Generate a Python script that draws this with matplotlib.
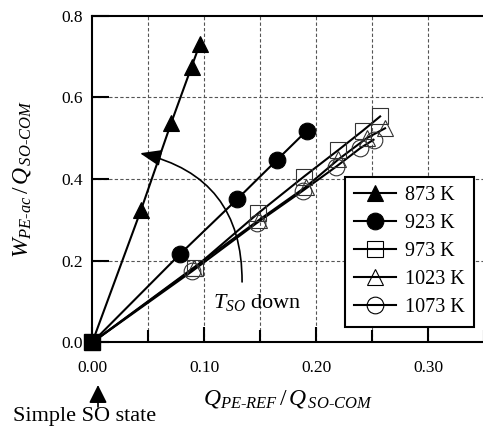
#!/usr/bin/env python3
"""Work ratio vs heat ratio for several SO temperatures."""

import matplotlib

matplotlib.use("Agg")
import matplotlib.pyplot as plt
from matplotlib.patches import FancyArrowPatch
from matplotlib.ticker import MultipleLocator

plt.rcParams["font.family"] = ["Liberation Serif", "DejaVu Serif"]
plt.rcParams["mathtext.fontset"] = "custom"
plt.rcParams["mathtext.rm"] = "Liberation Serif"
plt.rcParams["mathtext.it"] = "Liberation Serif:italic"
plt.rcParams["mathtext.bf"] = "Liberation Serif:bold"

# simple SO state (common start of every line)
ORIGIN_X = [0.0]
ORIGIN_Y = [0.0]

SERIES_LABELS = ["873 K", "923 K", "973 K", "1023 K", "1073 K"]
SERIES_X = [
    [0.0435, 0.0703, 0.0887, 0.0960],
    [0.0783, 0.1295, 0.1650, 0.1914],
    [0.0915, 0.1480, 0.1890, 0.2197, 0.2414, 0.2569],
    [0.0905, 0.1490, 0.1908, 0.2197, 0.2450, 0.2613],
    [0.0890, 0.1467, 0.1878, 0.2176, 0.2390, 0.2510],
]
SERIES_Y = [
    [0.324, 0.536, 0.675, 0.730],
    [0.216, 0.351, 0.447, 0.518],
    [0.183, 0.316, 0.406, 0.471, 0.518, 0.553],
    [0.183, 0.300, 0.381, 0.448, 0.500, 0.524],
    [0.174, 0.292, 0.371, 0.430, 0.475, 0.496],
]
MARKERS = ["^", "o", "s", "^", "o"]
FILLED = [True, True, False, False, False]

X_TICKS = [0.00, 0.10, 0.20, 0.30]
Y_TICKS = [0.0, 0.2, 0.4, 0.6, 0.8]


def main() -> None:
    fig = plt.figure(figsize=(4.83, 4.33), dpi=100)
    ax = fig.add_axes([0.191, 0.2092, 0.812, 0.755])

    for xs, ys, label, marker, filled in zip(SERIES_X, SERIES_Y, SERIES_LABELS, MARKERS, FILLED):
        ax.plot(
            ORIGIN_X + xs,
            ORIGIN_Y + ys,
            color="black",
            linewidth=1.5,
            zorder=3,
        )
        ax.plot(
            xs,
            ys,
            linestyle="none",
            marker=marker,
            markersize=12,
            markerfacecolor="black" if filled else "none",
            markeredgecolor="black" if filled else "#333333",
            markeredgewidth=0.8,
            zorder=4,
        )
        # legend proxy
        ax.plot(
            [],
            [],
            color="black",
            linewidth=1.5,
            marker=marker,
            markersize=12,
            markerfacecolor="black" if filled else "none",
            markeredgecolor="black",
            markeredgewidth=0.8,
            label=label,
        )

    ax.plot(ORIGIN_X, ORIGIN_Y, linestyle="none", marker="s", markersize=11,
            color="black", clip_on=False, zorder=6)

    ax.set_xlim(0, 0.35)
    ax.set_ylim(0, 0.8)
    ax.set_xticks(X_TICKS)
    ax.set_xticklabels([f"{v:.2f}" for v in X_TICKS])
    ax.xaxis.set_minor_locator(MultipleLocator(0.05))
    ax.set_yticks(Y_TICKS)
    ax.set_yticklabels([f"{v:.1f}" for v in Y_TICKS])

    ax.tick_params(axis="x", which="major", direction="in", length=11, width=1.5,
                   labelsize=12.5, pad=13)
    ax.tick_params(axis="x", which="minor", direction="in", length=9, width=1.5)
    ax.tick_params(axis="y", direction="in", length=12, width=1.5, labelsize=12.5, pad=7)
    ax.tick_params(top=False, right=False)

    for y in Y_TICKS[1:-1]:
        ax.axhline(y, color="#555555", linewidth=0.8, linestyle=(0, (3, 2)), zorder=1)
    for x in [0.05, 0.10, 0.15, 0.20, 0.25, 0.30]:
        ax.axvline(x, color="#555555", linewidth=0.8, linestyle=(0, (3, 2)), zorder=1)

    for spine in ax.spines.values():
        spine.set_linewidth(1.5)
    ax.spines["right"].set_visible(False)

    ax.set_xlabel(r"$Q_{PE\text{-}REF}\,/\,Q_{\,SO\text{-}COM}$", fontsize=17, labelpad=8)
    ax.set_ylabel(r"$W_{PE\text{-}ac}\,/\,Q_{\,SO\text{-}COM}$", fontsize=17, labelpad=20)

    # temperature decrease arrow
    arc = FancyArrowPatch(
        (0.1337, 0.148),
        (0.0426, 0.463),
        connectionstyle="arc3,rad=0.4",
        arrowstyle="-|>,head_length=1.3,head_width=0.5",
        mutation_scale=10,
        shrinkA=0,
        shrinkB=0,
        color="black",
        linewidth=1.2,
        zorder=5,
    )
    ax.add_patch(arc)
    ax.text(0.1078, 0.084, r"$T_{SO}$ down", fontsize=16, ha="left", va="baseline")

    leg = ax.legend(
        loc="upper left",
        bbox_to_anchor=(0.6446, 0.507),
        borderaxespad=0,
        fontsize=14.5,
        numpoints=1,
        handlelength=2.1,
        handletextpad=0.45,
        labelspacing=0.45,
        borderpad=0.45,
        fancybox=False,
        framealpha=1,
        edgecolor="black",
    )
    leg.get_frame().set_linewidth(1.5)
    leg.set_zorder(7)

    # simple SO state pointer below the axis
    fig.add_artist(
        FancyArrowPatch(
            (98 / 483, 1 - 407 / 433),
            (98 / 483, 1 - 385 / 433),
            transform=fig.transFigure,
            arrowstyle="-|>,head_length=1.1,head_width=0.55",
            mutation_scale=10,
            shrinkA=0,
            shrinkB=0,
            color="black",
            linewidth=1.2,
        )
    )
    fig.text(13 / 483, 1 - 421 / 433, "Simple SO state", fontsize=16, va="baseline")

    fig.savefig("out.png", dpi=100, facecolor="white")
    plt.close(fig)


if __name__ == "__main__":
    main()
